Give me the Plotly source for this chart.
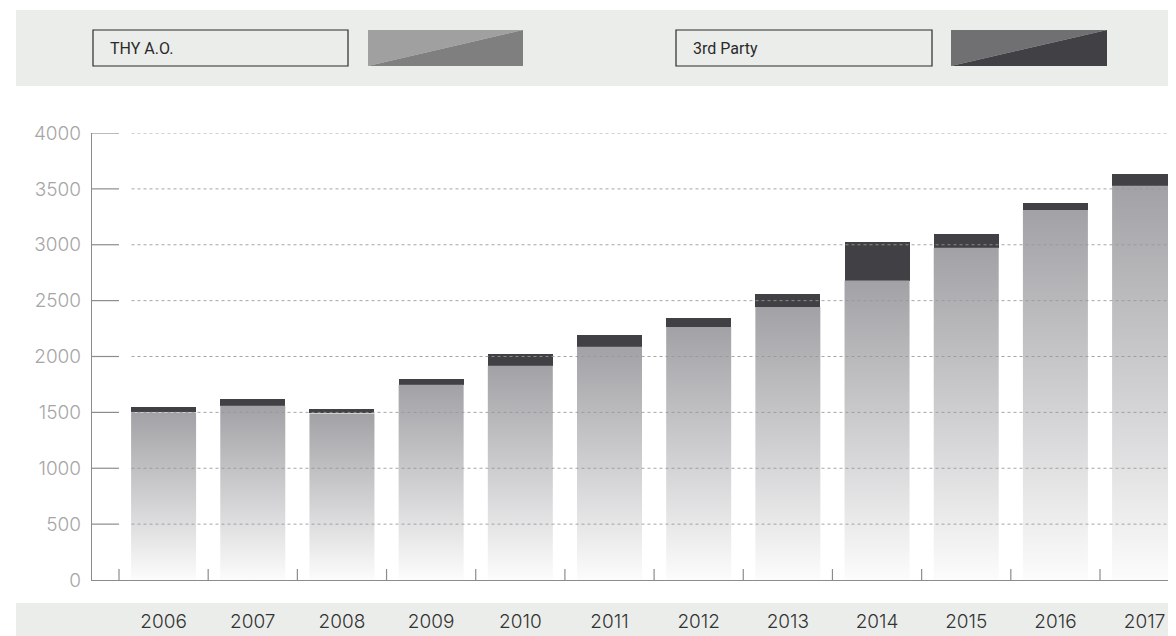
import plotly.graph_objects as go

# ---- data ----
years = ["2006", "2007", "2008", "2009", "2010", "2011",
         "2012", "2013", "2014", "2015", "2016", "2017"]
thy_values = [1500, 1560, 1490, 1747, 1917, 2087, 2265, 2444, 2679, 2973, 3312, 3527]
third_party_values = [50, 62, 43, 54, 107, 107, 81, 116, 348, 125, 63, 107]
y_ticks = [0, 500, 1000, 1500, 2000, 2500, 3000, 3500, 4000]
series_names = ["THY A.O.", "3rd Party"]

# ---- layout geometry (pixels) ----
OFF = 8  # page body margin
W, H = 1176 - OFF, 636 - OFF
ML, MR, MT, MB = 92 - OFF, 0, 133 - OFF, 56
PW = W - ML - MR
PH = H - MT - MB


def px_x(p):
    """screen pixel x -> paper coordinate"""
    return (p - OFF - ML) / PW


def px_y(p):
    """screen pixel y -> paper coordinate"""
    return (H - MB - (p - OFF)) / PH


unit = 89.18  # px per category
bar_w = 65 / unit
x_range = [-0.5 - 27 / unit, 10.5 + 76 / unit]

BAND = "#ebedeb"
AXIS = "#8c8c8c"
TICK_FONT = "Inter"

fig = go.Figure()

idx = list(range(len(years)))

# THY bars with vertical gradient
for i, v in zip(idx, thy_values):
    x0, x1 = i - bar_w / 2, i + bar_w / 2
    fig.add_trace(go.Scatter(
        x=[x0, x1, x1, x0, x0], y=[0, 0, v, v, 0],
        mode="lines", line=dict(width=0, color="rgba(0,0,0,0)"),
        fill="toself",
        fillgradient=dict(type="vertical",
                          colorscale=[[0, "#fcfcfc"], [0.45, "#d3d3d5"], [1, "#a2a1a5"]]),
        hoverinfo="skip", showlegend=False,
    ))

# 3rd party stacked on top
fig.add_trace(go.Bar(
    x=idx, y=third_party_values, base=thy_values, width=bar_w,
    marker=dict(color="#414145", line=dict(width=0)),
    hoverinfo="skip", showlegend=False,
))

shapes = []
# top band
shapes.append(dict(type="rect", xref="paper", yref="paper",
                   x0=px_x(16), x1=1, y0=px_y(86), y1=px_y(10),
                   fillcolor=BAND, line=dict(width=0), layer="below"))
# bottom band
shapes.append(dict(type="rect", xref="paper", yref="paper",
                   x0=px_x(16), x1=1, y0=px_y(636), y1=px_y(603),
                   fillcolor=BAND, line=dict(width=0), layer="below"))

# legend boxes
legend_boxes = [(93, 348, 368, 523, "#a0a0a0", "#807f80"),
                (676, 932, 951, 1107, "#707072", "#414145")]
for bx0, bx1, sx0, sx1, light, dark in legend_boxes:
    shapes.append(dict(type="rect", xref="paper", yref="paper",
                       x0=px_x(bx0), x1=px_x(bx1), y0=px_y(66), y1=px_y(30),
                       fillcolor=BAND, line=dict(width=1.2, color="#2a2a2a")))
    xa, xb = px_x(sx0), px_x(sx1)
    yt, yb = px_y(30), px_y(66)
    shapes.append(dict(type="path", xref="paper", yref="paper",
                       path=f"M{xa},{yt} L{xb},{yt} L{xa},{yb} Z",
                       fillcolor=light, line=dict(width=0)))
    shapes.append(dict(type="path", xref="paper", yref="paper",
                       path=f"M{xa},{yb} L{xb},{yt} L{xb},{yb} Z",
                       fillcolor=dark, line=dict(width=0)))

# dotted gridlines (above bars) and short solid y tick stubs
for t in y_ticks[1:]:
    shapes.append(dict(type="line", xref="paper", yref="y",
                       x0=px_x(131.5), x1=1, y0=t, y1=t,
                       line=dict(color="rgba(150,150,150,0.85)", width=1, dash="3px,3px"),
                       layer="above"))
    shapes.append(dict(type="line", xref="paper", yref="y",
                       x0=0, x1=px_x(119), y0=t, y1=t,
                       line=dict(color=AXIS, width=1.2)))

# vertical x tick stubs at category boundaries
for k in range(len(years)):
    shapes.append(dict(type="line", xref="x", yref="y",
                       x0=k - 0.5, x1=k - 0.5,
                       ysizemode="pixel", yanchor=0, y0=0, y1=11,
                       line=dict(color=AXIS, width=1.2)))

annotations = []
for (bx0, _, _, _, _, _), name in zip(legend_boxes, series_names):
    annotations.append(dict(text=name, xref="paper", yref="paper",
                            x=px_x(bx0 + 15), y=px_y(48),
                            xanchor="left", yanchor="middle", showarrow=False,
                            font=dict(family="Roboto", size=16, color="#2a2a2a", weight=400)))

fig.update_layout(
    width=W, height=H,
    margin=dict(l=ML, r=MR, t=MT, b=MB, pad=0),
    paper_bgcolor="white", plot_bgcolor="white",
    showlegend=False,
    bargap=0,
    shapes=shapes,
    annotations=annotations,
    xaxis=dict(
        range=x_range, tickmode="array", tickvals=idx, ticktext=years,
        showgrid=False, zeroline=False, showline=True, linecolor=AXIS, linewidth=1.2,
        ticks="", ticklabelstandoff=24,
        tickfont=dict(family=TICK_FONT, size=19, color="#333333", weight=300),
        fixedrange=True,
    ),
    yaxis=dict(
        range=[0, 4000], tickmode="array", tickvals=y_ticks,
        showgrid=False, zeroline=False, showline=True, linecolor=AXIS, linewidth=1.2,
        ticks="", ticklabelstandoff=6,
        tickfont=dict(family=TICK_FONT, size=19, color="#a6a6a6", weight=300),
        fixedrange=True,
    ),
)

fig.write_html(
    "out.html",
    config={"displayModeBar": False},
    post_script="document.documentElement.style.overflow='hidden';"
                "document.body.style.overflow='hidden';",
)
